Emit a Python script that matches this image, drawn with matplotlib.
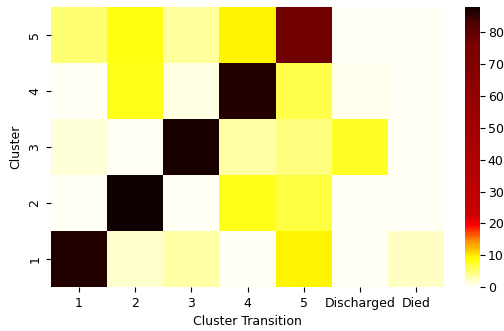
import numpy as np
import matplotlib
matplotlib.use('Agg')
import matplotlib.pyplot as plt
import seaborn as sns
from matplotlib.colors import LinearSegmentedColormap

plt.rcParams['font.size'] = 9

# transition values (rows = cluster 1..5)
clusters = ['1', '2', '3', '4', '5']
transitions = ['1', '2', '3', '4', '5', 'Discharged', 'Died']
row1 = [86.5, 1.9, 3.3, 0.4, 9.5, 0.6, 2.1]
row2 = [0.6, 88.0, 0.4, 8.0, 6.6, 0.4, 0.4]
row3 = [1.6, 0.4, 87.0, 3.3, 4.5, 7.6, 0.4]
row4 = [0.4, 8.0, 1.3, 86.5, 6.5, 1.0, 0.4]
row5 = [5.0, 8.5, 3.5, 9.5, 77.0, 0.5, 0.4]

data = np.array([row1, row2, row3, row4, row5])

# custom white-yellow-red-black map
cmap = LinearSegmentedColormap.from_list('wyrk', [
    (0.0, '#ffffff'),
    (0.10, '#ffff00'),
    (0.17, '#ff8000'),
    (0.22, '#ff0000'),
    (0.26, '#c80000'),
    (0.65, '#980000'),
    (0.87, '#760000'),
    (0.95, '#4a0000'),
    (1.0, '#100000'),
])

fig = plt.figure(figsize=(5.04, 3.31), dpi=100)
ax = fig.add_axes([51/504, 1-287/331, 393/504, 280/331])
cax = fig.add_axes([465/504, 1-287/331, 15/504, 280/331])

sns.heatmap(data, ax=ax, cbar_ax=cax, cmap=cmap, vmin=0, vmax=88,
            xticklabels=transitions, yticklabels=clusters)
ax.invert_yaxis()
ax.set_xlabel('Cluster Transition')
ax.set_ylabel('Cluster')
ax.tick_params(axis='y', rotation=90)
ax.tick_params(axis='x', rotation=0)
cax.set_yticks([0, 10, 20, 30, 40, 50, 60, 70, 80])
cax.tick_params(labelsize=9, pad=2)

fig.savefig('out.png', dpi=100)
